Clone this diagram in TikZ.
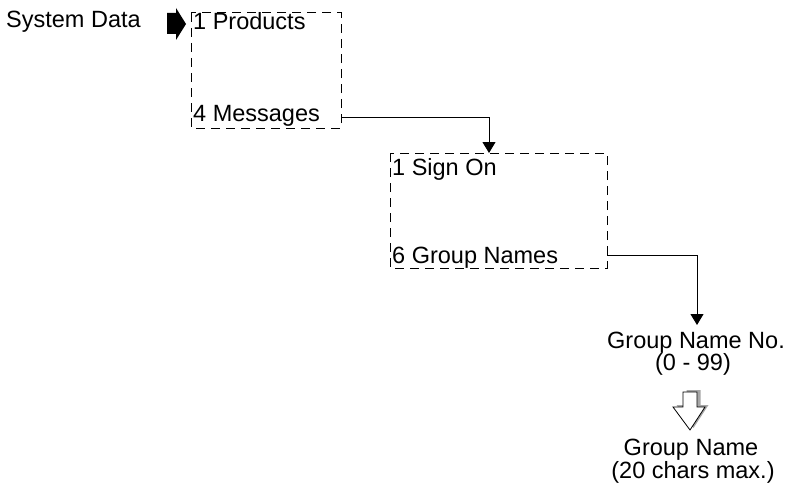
\documentclass[tikz,border=0pt]{standalone}
\usepackage{fontspec}
\setmainfont{Liberation Sans}
\usetikzlibrary{arrows.meta}
\begin{document}
\begin{tikzpicture}[x=1pt,y=-1pt,
  lbl/.style={anchor=base west,inner sep=0pt,font=\fontsize{23.5}{28}\selectfont},
  clbl/.style={anchor=base,inner sep=0pt,font=\fontsize{23.5}{28}\selectfont},
  menubox/.style={draw,line width=1pt,dash pattern=on 9pt off 6pt},
  conn/.style={line width=1pt,-{Triangle[length=11pt,width=13pt]}}]
\useasboundingbox (0,0) rectangle (789,495);
% menu boxes
\draw[menubox] (191,13) rectangle (341,128);
\draw[menubox] (390,153) rectangle (607,268);
\coordinate (b1e) at (341,117);
\coordinate (b2n) at (489,153);
\coordinate (b2e) at (607,255);
% texts
\node[lbl] (sd) at (6,28) {System Data};
\node[lbl] (p1) at (193,30) {1 Products};
\node[lbl] (p4) at (193,121) {4 Messages};
\node[lbl] (s1) at (392,175) {1 Sign On};
\node[lbl] (s6) at (392,263) {6 Group Names};
\node[clbl] (gn) at (696,348) {Group Name No.};
\node[clbl] (rng) at (693,370) {(0 - 99)};
\node[clbl] (gname) at (691,455) {Group Name};
\node[clbl] (gmax) at (693,478) {(20 chars max.)};
\coordinate (gntop) at (697,325);
% connectors
\draw[conn] (b1e) -| (b2n);
\draw[conn] (b2e) -| (gntop);
% black block arrow
\fill (167,13) -- (176,13) -- (176,8) -- (186,24) -- (176,40) -- (176,34) -- (167,34) -- cycle;
% hollow arrow with shadow
\fill[gray!70] (686.5,390) -- (700.5,390) -- (700.5,405) -- (708.5,405) -- (693.5,428) -- (676.5,405) -- (686.5,405) -- cycle;
\draw[fill=white,line width=0.8pt] (683,392) -- (697,392) -- (697,407) -- (705,407) -- (690,430) -- (673,407) -- (683,407) -- cycle;
\end{tikzpicture}
\end{document}
